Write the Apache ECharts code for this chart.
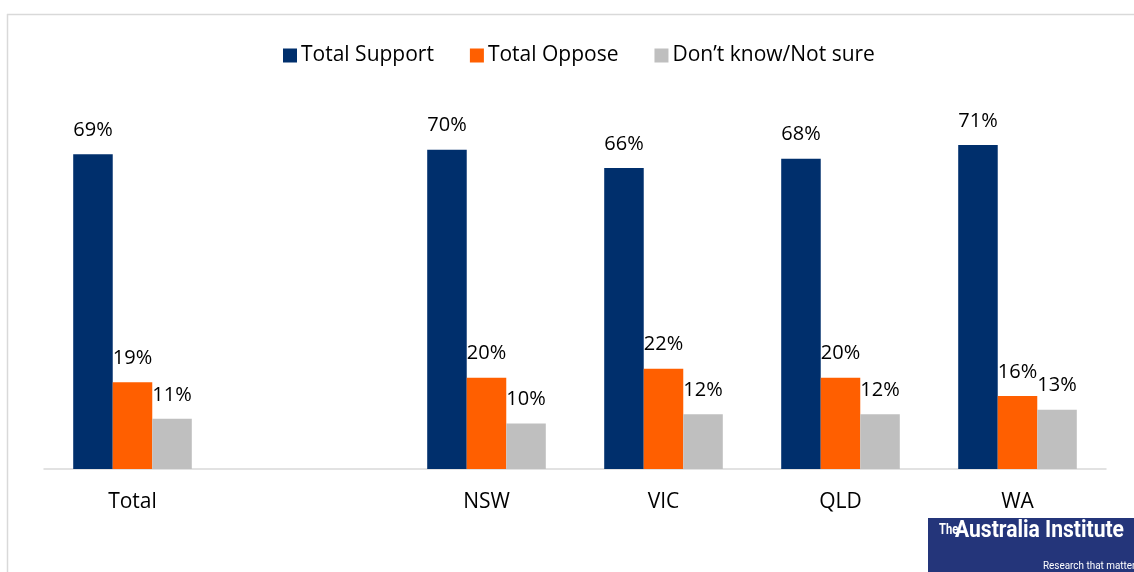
<!DOCTYPE html>
<html>
<head>
<meta charset="utf-8">
<script src="https://cdn.jsdelivr.net/npm/echarts@6/dist/echarts.min.js"></script>
<style>
  html, body { margin: 0; padding: 0; background: #fff; }
  #chart { width: 1134px; height: 572px; }
</style>
</head>
<body>
<div id="chart"></div>
<script>
// categories (the blank slot is a gap between Total and the states)
var categories = ["Total", "", "NSW", "VIC", "QLD", "WA"];
var support = [69, "-", 70, 66, 68, 71];
var oppose = [19, "-", 20, 22, 20, 16];
var notSure = [11, "-", 10, 12, 12, 13];

var myChart = echarts.init(document.getElementById("chart"));
var font = "'Open Sans', 'Noto Sans', sans-serif";
var logoFont = "bold 24px Roboto";

// squeeze the logo text to its width in the reference
var ctx = document.createElement("canvas").getContext("2d");
ctx.font = logoFont;
var logoScale = 169 / ctx.measureText("Australia Institute").width;

var labelStyle = {
  show: true,
  position: "top",
  distance: 14,
  color: "#000",
  fontSize: 20,
  fontFamily: font,
  formatter: "{c}%",
};

var option = {
  animation: false,
  backgroundColor: "#fff",
  color: ["#002F6C", "#FF5F00", "#BFBFBF"],
  legend: {
    top: 40,
    left: 278,
    itemWidth: 14,
    itemHeight: 14,
    itemGap: 36,
    icon: "rect",
    textStyle: { color: "#000", fontSize: 21, fontFamily: font, padding: [0, 0, 0, -1] },
  },
  grid: {
    top: 104,
    left: 44,
    right: 28,
    bottom: 103,
  },
  xAxis: {
    type: "category",
    data: categories,
    axisLine: { lineStyle: { color: "#D9D9D9", width: 1.5 } },
    axisTick: { show: false },
    axisLabel: { color: "#000", fontSize: 21, fontFamily: font, margin: 23 },
  },
  yAxis: {
    type: "value",
    min: 0,
    max: 80,
    show: false,
    splitLine: { show: false },
  },
  series: [
    { type: "bar", name: "Total Support", data: support, barGap: "0%", barCategoryGap: "33%", label: labelStyle },
    { type: "bar", name: "Total Oppose", data: oppose, label: labelStyle },
    { type: "bar", name: "Don’t know/Not sure", data: notSure, label: labelStyle },
  ],
  graphic: [
    // frame of the chart area
    { type: "line", shape: { x1: 7, y1: 14.5, x2: 1134, y2: 14.5 }, style: { stroke: "#D9D9D9", lineWidth: 1.5 } },
    { type: "line", shape: { x1: 7.5, y1: 14, x2: 7.5, y2: 572 }, style: { stroke: "#D9D9D9", lineWidth: 1.5 } },
    // logo
    { type: "rect", shape: { x: 928, y: 518, width: 206, height: 54 }, style: { fill: "#24357A" } },
    {
      type: "text", x: 939, y: 523, scaleX: 0.8,
      style: { text: "The", fill: "#fff", font: "bold 14px Roboto" },
    },
    {
      type: "text", x: 955, y: 519, scaleX: logoScale,
      style: { text: "Australia Institute", fill: "#fff", font: logoFont },
    },
    {
      type: "text", x: 1043, y: 561, scaleX: 0.9,
      style: { text: "Research that matters", fill: "#fff", font: "11px Roboto" },
    },
  ],
};

myChart.setOption(option);
window.addEventListener("resize", function () {
  myChart.resize();
});
</script>
</body>
</html>
